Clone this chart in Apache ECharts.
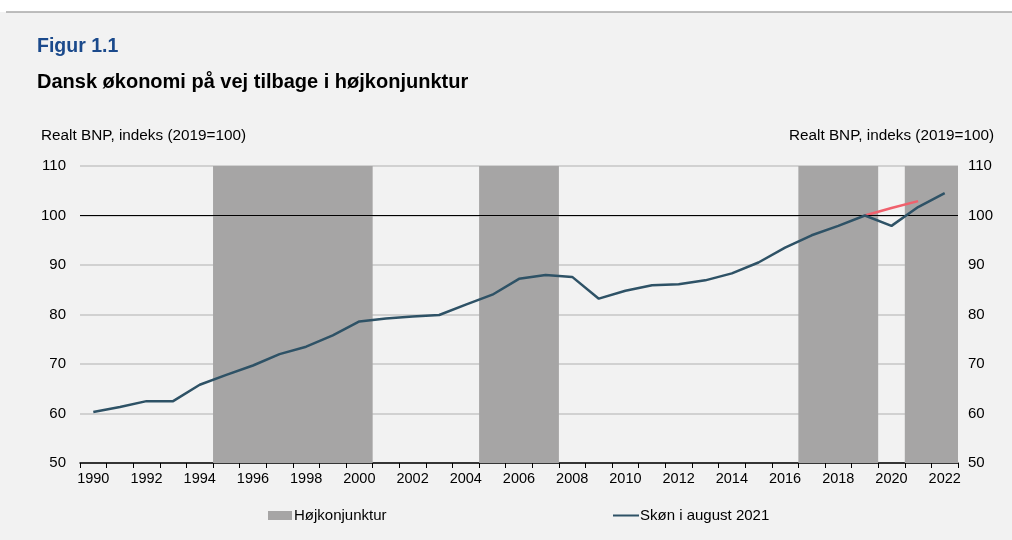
<!DOCTYPE html>
<html>
<head>
<meta charset="utf-8">
<script src="https://cdn.jsdelivr.net/npm/echarts@6/dist/echarts.min.js"></script>
<style>
  html, body { margin: 0; padding: 0; background: #fff; }
  #chart { width: 1012px; height: 540px; background: linear-gradient(#ffffff 0, #ffffff 12px, #f2f2f2 12px); }
</style>
</head>
<body>
<div id="chart"></div>
<script>
var years = [];
for (var y = 1990; y <= 2022; y++) years.push(String(y));

// Realt BNP, indeks (2019=100) – skøn i august 2021
var skon = [60.3, 61.3, 62.5, 62.5, 65.8, 67.8, 69.7, 72.0, 73.5, 75.8,
            78.6, 79.2, 79.6, 79.9, 82.0, 84.0, 87.2, 88.0, 87.6, 83.2,
            84.8, 85.9, 86.1, 86.9, 88.3, 90.5, 93.5, 96.0, 97.9, 100.0,
            97.9, 101.7, 104.5];
// tidligere skøn (rød linje)
var tidligere = [null, null, null, null, null, null, null, null, null, null,
                 null, null, null, null, null, null, null, null, null, null,
                 null, null, null, null, null, null, null, null, null, 100.0,
                 101.5, 102.9, null];
// højkonjunktur-perioder (første og sidste år)
var hojStart = ['1995', '2005', '2017', '2021'];
var hojEnd = ['2000', '2007', '2019', '2022'];
var hojData = hojStart.map(function(s, i) {
  return [years.indexOf(s), years.indexOf(hojEnd[i])];
});

var font = 'Liberation Sans, Arial, sans-serif';
var chart = echarts.init(document.getElementById('chart'), null, { renderer: 'canvas' });

var yAxisBase = {
  type: 'value', min: 50, max: 110, interval: 10,
  axisLine: { show: false }, axisTick: { show: false },
  axisLabel: { color: '#000', fontSize: 15, fontFamily: font },
  splitLine: { lineStyle: { color: '#c6c6c6', width: 1.5 } }
};

function renderHoj(params, api) {
  var bw = api.size([1, 0])[0];
  var p0 = api.coord([api.value(0), 110]);
  var p1 = api.coord([api.value(1), 50]);
  return {
    type: 'rect',
    shape: { x: p0[0] - bw / 2, y: p0[1], width: p1[0] - p0[0] + bw, height: p1[1] - p0[1] },
    style: { fill: '#a6a5a5' }
  };
}

chart.setOption({
  animation: false,
  backgroundColor: 'transparent',
  graphic: [
    { type: 'line', shape: { x1: 6, y1: 12, x2: 1012, y2: 12 }, style: { stroke: '#a8a8a8', lineWidth: 1.5 } },
    { type: 'text', left: 37, top: 37, style: { text: 'Figur 1.1', fill: '#1b4a8c', font: 'bold 19.5px ' + font } },
    { type: 'text', left: 37, top: 72, style: { text: 'Dansk økonomi på vej tilbage i højkonjunktur', fill: '#000', font: 'bold 20px ' + font } },
    { type: 'text', left: 41, top: 128, style: { text: 'Realt BNP, indeks (2019=100)', fill: '#000', font: '15.3px ' + font } },
    { type: 'text', right: 18, top: 128, style: { text: 'Realt BNP, indeks (2019=100)', fill: '#000', font: '15.3px ' + font } }
  ],
  grid: { left: 80, right: 54, top: 166, bottom: 77 },
  legend: [
    {
      left: 268, top: 508, padding: 0, itemWidth: 24, itemHeight: 9, itemGap: 2,
      textStyle: { color: '#000', fontSize: 15, fontFamily: font, padding: [0, 0, 0, -3] },
      data: [{ name: 'Højkonjunktur', icon: 'rect' }]
    },
    {
      left: 613, top: 508, padding: 0, itemWidth: 26, itemHeight: 9,
      textStyle: { color: '#000', fontSize: 15, fontFamily: font, padding: [0, 0, 0, -4] },
      data: [{ name: 'Skøn i august 2021', icon: 'path://M0,4 L26,4 L26,6 L0,6 Z' }]
    }
  ],
  xAxis: {
    type: 'category', data: years, boundaryGap: true,
    axisLine: { lineStyle: { color: '#000', width: 1.5 } },
    axisTick: { show: true, interval: 0, length: 5, lineStyle: { color: '#000' } },
    axisLabel: { interval: 1, color: '#000', fontSize: 14.5, fontFamily: font, margin: 8 }
  },
  yAxis: [
    Object.assign({}, yAxisBase, { position: 'left', axisLabel: Object.assign({}, yAxisBase.axisLabel, { margin: 14 }) }),
    Object.assign({}, yAxisBase, { position: 'right', splitLine: { show: false }, axisLabel: Object.assign({}, yAxisBase.axisLabel, { margin: 10 }) })
  ],
  series: [
    {
      name: 'Højkonjunktur', type: 'custom', data: hojData, renderItem: renderHoj,
      encode: { x: [0, 1] }, itemStyle: { color: '#a6a5a5' }, z: 1, silent: true
    },
    {
      name: 'Skøn i august 2021', type: 'line', data: skon, symbol: 'none', z: 5,
      lineStyle: { color: '#2e5266', width: 2.5 }, itemStyle: { color: '#2e5266' },
      markLine: {
        silent: true, symbol: 'none', label: { show: false },
        lineStyle: { color: '#000', width: 1, type: 'solid' },
        data: [{ yAxis: 100 }]
      }
    },
    {
      name: 'Tidligere skøn', type: 'line', data: tidligere, symbol: 'none', z: 4,
      lineStyle: { color: '#f0616d', width: 2.5 }, itemStyle: { color: '#f0616d' }
    }
  ]
});
</script>
</body>
</html>
